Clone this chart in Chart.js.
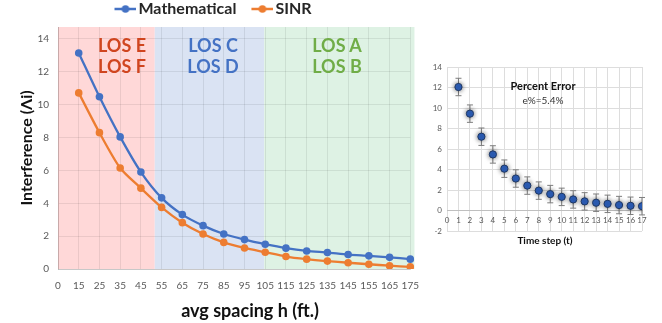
<!DOCTYPE html>
<html><head><meta charset="utf-8">
<script src="https://cdn.jsdelivr.net/npm/chart.js@4.4.1/dist/chart.umd.min.js"></script>
<style>
html,body{margin:0;padding:0;background:#fff;width:662px;height:323px;overflow:hidden;font-family:Lato,sans-serif}
#c1{position:absolute;left:0;top:0;width:430px;height:323px}
#c2{position:absolute;left:430px;top:55px;width:232px;height:200px}
.lbl{position:absolute;font-family:Lato,sans-serif;font-weight:bold;text-align:center;white-space:nowrap}
</style></head><body>
<canvas id="c1" width="430" height="323"></canvas>
<canvas id="c2" width="232" height="200"></canvas>
<div class="lbl" style="left:72px;top:35px;width:100px;font-size:18px;line-height:21px;color:#D0451F">LOS E<br>LOS F</div>
<div class="lbl" style="left:163px;top:35px;width:100px;font-size:18px;line-height:21px;color:#4472C4">LOS C<br>LOS D</div>
<div class="lbl" style="left:287px;top:35px;width:100px;font-size:18px;line-height:21px;color:#70AD47">LOS A<br>LOS B</div>
<div class="lbl" style="left:150px;top:299px;width:200px;font-size:18px;line-height:22px;color:#111">avg spacing h (ft.)</div>
<div class="lbl" style="left:483px;top:79px;width:120px;font-size:11px;line-height:14px;color:#111">Percent Error</div>
<div class="lbl" style="left:483px;top:94px;width:120px;font-size:10px;line-height:13px;font-weight:normal;color:#333">e%=5.4%</div>
<div class="lbl" style="left:485px;top:233px;width:120px;font-size:10px;line-height:14px;color:#111">Time step (t)</div>
<script>
// ---- data ----
const spacingLabels = ['0','15','25','35','45','55','65','75','85','95','105','115','125','135','145','155','165','175'];
const mathematical = [null,13.15,10.48,8.04,5.9,4.33,3.31,2.64,2.13,1.79,1.51,1.27,1.1,1.0,0.88,0.8,0.71,0.6];
const sinr = [null,10.72,8.3,6.15,4.92,3.75,2.82,2.13,1.62,1.28,1.02,0.76,0.6,0.48,0.38,0.29,0.2,0.13];
const timeSteps = [1,2,3,4,5,6,7,8,9,10,11,12,13,14,15,16,17];
const percentError = [12.05,9.45,7.2,5.47,4.08,3.12,2.43,1.94,1.6,1.33,1.08,0.89,0.76,0.65,0.53,0.46,0.42];
const errorMargin = [0.85,0.85,0.85,0.85,0.85,0.85,0.85,0.85,0.85,0.85,0.85,0.85,0.85,0.85,0.85,0.85,0.85];
const leftYTicks = [0,2,4,6,8,10,12,14];

const BLUE = '#4472C4', ORANGE = '#ED7D31';

function legendIcon(color){
  const c = document.createElement('canvas');
  c.width = 42; c.height = 12;
  const g = c.getContext('2d');
  g.strokeStyle = color; g.lineWidth = 2.5;
  g.beginPath(); g.moveTo(20,6); g.lineTo(42,6); g.stroke();
  g.fillStyle = color; g.beginPath(); g.arc(31,6,3.8,0,Math.PI*2); g.fill();
  return c;
}

const zonePlugin = {
  id:'zones',
  beforeDraw(chart, args, opts){
    const {ctx, chartArea, scales} = chart;
    const x = scales.x;
    ctx.save();
    let prev = chartArea.left;
    opts.zones.forEach(z => {
      const xe = x.getPixelForValue(z.end);
      ctx.fillStyle = z.color;
      ctx.fillRect(prev, chartArea.top, xe - prev, chartArea.bottom - chartArea.top);
      prev = xe;
    });
    ctx.restore();
  }
};

new Chart(document.getElementById('c1'), {
  type:'line',
  data:{
    labels: spacingLabels,
    datasets:[
      {label:'Mathematical', data: mathematical, borderColor: BLUE, backgroundColor: BLUE, borderWidth:2.3, pointRadius:3.8, pointBackgroundColor: BLUE, pointBorderWidth:0, tension:0.25},
      {label:'SINR', data: sinr, borderColor: ORANGE, backgroundColor: ORANGE, borderWidth:2.3, pointRadius:3.8, pointBackgroundColor: ORANGE, pointBorderWidth:0, tension:0.25}
    ]
  },
  plugins:[zonePlugin],
  options:{
    responsive:false, animation:false, devicePixelRatio:1,
    layout:{padding:{left:0,right:18,top:0,bottom:0}},
    plugins:{
      tooltip:{enabled:false},
      zones:{zones:[
        {end:4.67, color:'rgb(255,216,216)'},
        {end:9.95, color:'rgb(218,227,243)'},
        {end:17.2, color:'rgb(222,242,228)'}
      ]},
      legend:{
        position:'top',
        labels:{
          usePointStyle:true, pointStyleWidth:30, padding:1, color:'#262626',
          font:{family:'Lato', size:16, weight:'bold'},
          generateLabels(chart){
            return chart.data.datasets.map((ds,i)=>({
              text: ds.label, pointStyle: legendIcon(ds.borderColor),
              fillStyle: ds.borderColor, strokeStyle: ds.borderColor, lineWidth:0,
              hidden:false, datasetIndex:i, fontColor:'#262626'
            }));
          }
        }
      }
    },
    scales:{
      x:{
        type:'category', offset:false,
        grid:{color:'rgba(0,0,0,0.08)', drawTicks:false},
        border:{color:'rgba(0,0,0,0.15)'},
        ticks:{autoSkip:false, maxRotation:0, padding:11, color:'#595959', font:{family:'Lato', size:10}},
        afterFit(s){ s.height = 54; }
      },
      y:{
        min:0, max:14.73,
        afterBuildTicks(s){ s.ticks = leftYTicks.map(v=>({value:v})); },
        grid:{color:'rgba(0,0,0,0.08)', drawTicks:false},
        border:{color:'rgba(0,0,0,0.15)'},
        ticks:{padding:9, color:'#595959', font:{family:'Lato', size:10}},
        title:{display:true, text:'Interference (Λi)', color:'#111', font:{family:'Lato', size:16, weight:'bold'}, padding:{top:17,bottom:0}},
        afterFit(s){ s.width = 58; }
      }
    }
  }
});

const errorBarPlugin = {
  id:'errbars',
  beforeDatasetsDraw(chart, args, opts){
    const {ctx, scales:{x,y}} = chart;
    const ds = chart.data.datasets[0];
    ctx.save();
    ctx.strokeStyle = opts.color; ctx.lineWidth = 1;
    ds.data.forEach((p,i)=>{
      const e = ds.errors[i];
      const px = x.getPixelForValue(p.x);
      const yt = y.getPixelForValue(p.y + e), yb = y.getPixelForValue(p.y - e);
      ctx.beginPath();
      ctx.moveTo(px,yt); ctx.lineTo(px,yb);
      ctx.moveTo(px-3,yt); ctx.lineTo(px+3,yt);
      ctx.moveTo(px-3,yb); ctx.lineTo(px+3,yb);
      ctx.stroke();
    });
    ctx.restore();
  },
  beforeDatasetDraw(chart){
    const ctx = chart.ctx;
    ctx.save();
    ctx.shadowColor = 'rgba(0,0,0,0.55)';
    ctx.shadowBlur = 5;
  },
  afterDatasetDraw(chart){ chart.ctx.restore(); }
};

new Chart(document.getElementById('c2'), {
  type:'scatter',
  data:{
    datasets:[{
      label:'Percent Error',
      data: timeSteps.map((t,i)=>({x:t, y:percentError[i]})),
      errors: errorMargin,
      pointRadius:3.6, pointBackgroundColor:'#2F64C4', pointBorderColor:'#1F3864', pointBorderWidth:1
    }]
  },
  plugins:[errorBarPlugin],
  options:{
    responsive:false, animation:false, devicePixelRatio:1,
    layout:{padding:{left:0,right:20,top:12,bottom:24}},
    plugins:{legend:{display:false}, tooltip:{enabled:false}, errbars:{color:'#7F7F7F'}},
    scales:{
      x:{
        type:'linear', min:0, max:17, position:{y:0},
        grid:{color:'#DDDDDD', drawTicks:false},
        border:{color:'#BFBFBF'},
        ticks:{stepSize:1, autoSkip:false, maxRotation:0, padding:5, color:'#595959', font:{family:'Lato', size:8}}
      },
      y:{
        min:-2, max:14,
        grid:{color:'#DDDDDD', drawTicks:false},
        border:{display:false},
        ticks:{stepSize:2, padding:5, color:'#595959', font:{family:'Lato', size:8}},
        afterFit(s){ s.width = 17; }
      }
    }
  }
});
</script>
</body></html>
